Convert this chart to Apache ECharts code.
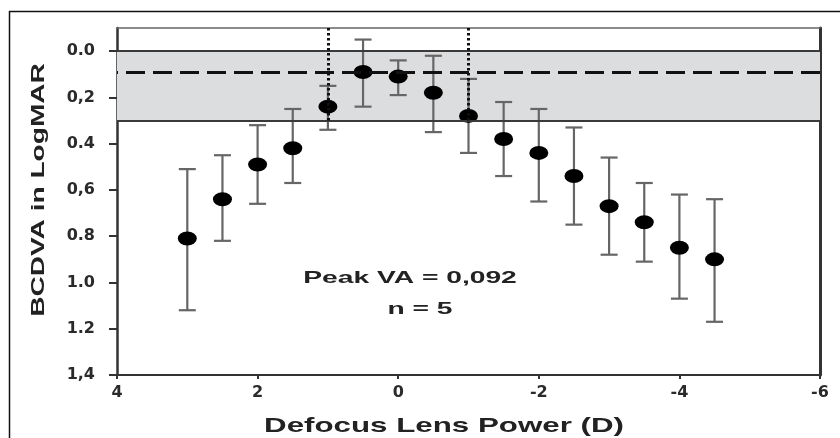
<!DOCTYPE html>
<html><head><meta charset="utf-8">
<script src="https://cdn.jsdelivr.net/npm/echarts@6/dist/echarts.min.js"></script>
<style>html,body{margin:0;padding:0;background:#fff}#c{width:840px;height:438px}</style>
</head><body><div id="c"></div>
<script>
// Data
const defocus = [3, 2.5, 2, 1.5, 1, 0.5, 0, -0.5, -1, -1.5, -2, -2.5, -3, -3.5, -4, -4.5];
const meanVA  = [0.81, 0.64, 0.49, 0.42, 0.24, 0.09, 0.11, 0.18, 0.28, 0.38, 0.44, 0.54, 0.67, 0.74, 0.85, 0.90];
const lowVA   = [0.51, 0.45, 0.32, 0.25, 0.15, -0.05, 0.04, 0.02, 0.12, 0.22, 0.25, 0.33, 0.46, 0.57, 0.62, 0.64];
const highVA  = [1.12, 0.82, 0.66, 0.57, 0.34, 0.24, 0.19, 0.35, 0.44, 0.54, 0.65, 0.75, 0.88, 0.91, 1.07, 1.17];
const peakVA = 0.092;
const bandRange = [0, 0.3];
const depthOfFocus = [1, -1];
const yTickValues = [0, 0.2, 0.4, 0.6, 0.8, 1.0, 1.2, 1.4];
const yTickLabels = ['0.0', '0,2', '0.4', '0,6', '0.8', '1.0', '1.2', '1,4'];
const xTickValues = [4, 2, 0, -2, -4, -6];
const xTickLabels = ['4', '2', '0', '-2', '-4', '-6'];

const chart = echarts.init(document.getElementById('c'), null, {renderer: 'canvas'});

const tickFont = {fontFamily: 'DejaVu Sans', fontWeight: 'bold', fontSize: 16, color: '#2a2a2a'};

const option = {
  animation: false,
  grid: {left: 117, right: 20, top: 28, bottom: 63, containLabel: false},
  xAxis: [{
    type: 'value', inverse: true, min: -6, max: 4, interval: 2,
    axisLine: {show: true, onZero: false, lineStyle: {color: '#333', width: 2}},
    axisTick: {show: true, length: 4, lineStyle: {color: '#333', width: 2}},
    axisLabel: Object.assign({margin: 10, formatter: v => {
      const i = xTickValues.findIndex(t => Math.abs(t - v) < 1e-6);
      return i >= 0 ? xTickLabels[i] : '';
    }}, tickFont),
    splitLine: {show: false}
  }, {
    type: 'value', inverse: true, min: -6, max: 4, position: 'top',
    axisLine: {show: true, onZero: false, lineStyle: {color: '#666', width: 1.5}},
    axisTick: {show: false}, axisLabel: {show: false}, splitLine: {show: false}
  }],
  yAxis: [{
    type: 'value', inverse: true, min: -0.1, max: 1.4,
    axisLine: {show: true, onZero: false, lineStyle: {color: '#333', width: 2.5}},
    axisTick: {show: true, length: 8, customValues: yTickValues, lineStyle: {color: '#333', width: 2}},
    axisLabel: Object.assign({margin: 22, customValues: yTickValues, formatter: v => {
      const i = yTickValues.findIndex(t => Math.abs(t - v) < 1e-6);
      return i >= 0 ? yTickLabels[i] : '';
    }}, tickFont),
    splitLine: {show: false}
  }, {
    type: 'value', inverse: true, min: -0.1, max: 1.4, position: 'right',
    axisLine: {show: true, onZero: false, lineStyle: {color: '#333', width: 3}},
    axisTick: {show: false}, axisLabel: {show: false}, splitLine: {show: false}
  }],
  series: [{
    type: 'line', data: [], z: 1, silent: true,
    markArea: {silent: true, itemStyle: {color: '#dcdddf'},
      data: [[{yAxis: bandRange[0]}, {yAxis: bandRange[1]}]]},
    markLine: {silent: true, symbol: 'none', label: {show: false},
      lineStyle: {color: '#3a3a3a', width: 2, type: 'solid'},
      data: [
        {yAxis: bandRange[0]},
        {yAxis: bandRange[1]},
        {yAxis: peakVA, lineStyle: {color: '#111', width: 3, type: [19, 8]}},
        [{coord: [depthOfFocus[0], -0.1]}, {coord: [depthOfFocus[0], bandRange[1]], lineStyle: {color: '#111', width: 3, type: [2.5, 2.5]}}],
        [{coord: [depthOfFocus[1], -0.1]}, {coord: [depthOfFocus[1], bandRange[1]], lineStyle: {color: '#111', width: 3, type: [2.5, 2.5]}}]
      ]}
  }, {
    type: 'custom', z: 3, silent: true,
    data: defocus.map((d, i) => [d, lowVA[i], highVA[i]]),
    encode: {x: 0, y: [1, 2]},
    renderItem: (params, api) => {
      const x = api.value(0), lo = api.value(1), hi = api.value(2);
      const p1 = api.coord([x, lo]), p2 = api.coord([x, hi]);
      const hw = 8.5;
      const style = {stroke: '#666', lineWidth: 2.2};
      return {type: 'group', children: [
        {type: 'line', shape: {x1: p1[0], y1: p1[1], x2: p2[0], y2: p2[1]}, style: style},
        {type: 'line', shape: {x1: p1[0] - hw, y1: p1[1], x2: p1[0] + hw, y2: p1[1]}, style: style},
        {type: 'line', shape: {x1: p2[0] - hw, y1: p2[1], x2: p2[0] + hw, y2: p2[1]}, style: style}
      ]};
    }
  }, {
    type: 'scatter', z: 4, silent: true,
    symbol: 'circle', symbolSize: [19, 14],
    itemStyle: {color: '#000', opacity: 1},
    data: defocus.map((d, i) => [d, meanVA[i]])
  }],
  graphic: [
    {type: 'line', shape: {x1: 9.5, y1: 11, x2: 9.5, y2: 438}, style: {stroke: '#111', lineWidth: 1.5}},
    {type: 'line', shape: {x1: 9, y1: 11.5, x2: 840, y2: 11.5}, style: {stroke: '#111', lineWidth: 1.5}},
    {type: 'text', x: 410, y: 278, scaleX: 1.66, style: {text: 'Peak VA = 0,092', fontFamily: 'Liberation Sans', fontWeight: 'bold', fontSize: 17, fill: '#222', align: 'center', verticalAlign: 'middle'}},
    {type: 'text', x: 420, y: 309, scaleX: 1.66, style: {text: 'n = 5', fontFamily: 'Liberation Sans', fontWeight: 'bold', fontSize: 17, fill: '#222', align: 'center', verticalAlign: 'middle'}},
    {type: 'text', x: 444, y: 426, scaleX: 1.49, style: {text: 'Defocus Lens Power (D)', fontFamily: 'Liberation Sans', fontWeight: 'bold', fontSize: 21, fill: '#222', align: 'center', verticalAlign: 'middle'}},
    {type: 'text', x: 39, y: 190, rotation: Math.PI / 2, scaleX: 1.56, style: {text: 'BCDVA in LogMAR', fontFamily: 'Liberation Sans', fontWeight: 'bold', fontSize: 18, fill: '#222', align: 'center', verticalAlign: 'middle'}}
  ]
};
chart.setOption(option);
</script>
</body></html>
